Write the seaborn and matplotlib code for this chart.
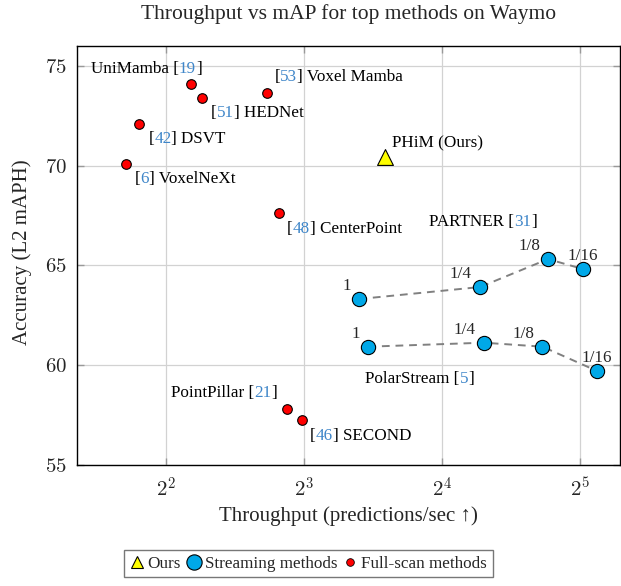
import numpy as np
import pandas as pd
import matplotlib
matplotlib.use("Agg")
import matplotlib.pyplot as plt
import seaborn as sns
from matplotlib.lines import Line2D
from matplotlib.font_manager import FontProperties
from matplotlib.ticker import FixedLocator, FuncFormatter, NullLocator

# full-scan detectors
full_names = ["UniMamba", "Voxel Mamba", "HEDNet", "DSVT", "VoxelNeXt",
              "CenterPoint", "PointPillar", "SECOND"]
full_refs = ["19", "53", "51", "42", "6", "48", "21", "46"]
full_fps = [4.53, 6.63, 4.79, 3.50, 3.28, 7.06, 7.33, 7.93]
full_map = [74.12, 73.62, 73.40, 72.08, 70.10, 67.64, 57.83, 57.25]

# ours
ours_fps = [12.0]
ours_map = [70.43]

# streaming methods (fraction of the scan)
ratios = ["1", "1/4", "1/8", "1/16"]
partner_fps = [10.56, 19.37, 27.25, 32.5]
partner_map = [63.32, 63.92, 65.32, 64.82]
polar_fps = [11.05, 19.73, 26.5, 34.8]
polar_map = [60.93, 61.13, 60.93, 59.72]

x_ticks = [4, 8, 16, 32]
y_ticks = [55, 60, 65, 70, 75]

RED = "#ff0000"
CYAN = "#00a8e8"
YELLOW = "#ffff00"
CITE = "#3f86c9"
LBL = 12.3

sns.set_style("whitegrid")
plt.rcParams["font.family"] = ["Liberation Serif", "DejaVu Serif"]
plt.rcParams["mathtext.fontset"] = "cm"

fig = plt.figure(figsize=(6.21, 5.86), dpi=100)
ax = fig.add_axes([77 / 621, 121 / 586, 543 / 621, 419 / 586])

sns.lineplot(x=partner_fps, y=partner_map, sort=False, ax=ax, color="#808080",
             lw=1.4, linestyle=(0, (4, 3)), zorder=2)
sns.lineplot(x=polar_fps, y=polar_map, sort=False, ax=ax, color="#808080",
             lw=1.4, linestyle=(0, (4, 3)), zorder=2)

sns.scatterplot(x=full_fps, y=full_map, ax=ax, color=RED, s=48,
                edgecolor="black", linewidth=0.8, zorder=3)
sns.scatterplot(x=partner_fps + polar_fps, y=partner_map + polar_map, ax=ax,
                color=CYAN, s=105, edgecolor="black", linewidth=0.8, zorder=3)
sns.scatterplot(x=ours_fps, y=ours_map, ax=ax, color=YELLOW, marker="^", s=130,
                edgecolor="black", linewidth=0.8, zorder=3)

ax.set_xscale("log", base=2)
ax.set_xlim(2 ** 1.355, 2 ** 5.29)
ax.set_ylim(55, 76)
ax.xaxis.set_major_locator(FixedLocator(x_ticks))
ax.xaxis.set_minor_locator(NullLocator())
ax.xaxis.set_major_formatter(FuncFormatter(lambda v, p: r"$2^{%d}$" % round(np.log2(v))))
ax.set_yticks(y_ticks)
ax.yaxis.set_major_formatter(FuncFormatter(lambda v, p: r"$%d$" % v))
ax.tick_params(axis="both", direction="in", length=5, width=1, color="#999999",
               labelsize=15, top=True, right=True, bottom=True, left=True)
ax.tick_params(axis="x", pad=9)
ax.tick_params(axis="y", pad=7)
ax.grid(True, color="#d2d2d2", lw=0.9)
for sp in ax.spines.values():
    sp.set_color("black")
    sp.set_linewidth(1.0)

renderer = fig.canvas.get_renderer()
prop = FontProperties(family=plt.rcParams["font.family"], size=LBL)


def tw(s):
    return renderer.get_text_width_height_descent(s, prop, ismath=False)


def rich_label(x, y, parts, dx, dy, ha="left"):
    # one label, pieces in different colours, placed from measured string widths
    full = "".join(t for t, c in parts)
    W, H, D = tw(full)
    _, h_lp, d_lp = tw("lp")
    H, D = max(H, h_lp), max(D, d_lp)
    left = dx if ha == "left" else dx - W
    base = dy + D - H / 2
    prefix = ""
    for txt, col in parts:
        prefix += txt
        off = tw(prefix)[0] - tw(txt.lstrip())[0]
        ax.annotate(txt.lstrip(), (x, y), xytext=(left + off, base),
                    textcoords="offset pixels", ha="left", va="baseline",
                    color=col, fontsize=LBL, zorder=4)


# (side, dx, dy) in pixels for each full-scan label
full_lbl = [("right", 11, 15), ("left", 8, 16), ("left", 9, -15), ("left", 9, -15),
            ("left", 8, -15), ("left", 8, -16), ("right", -9, 16), ("left", 8, -16)]
for name, ref, fx, fy, (side, dx, dy) in zip(full_names, full_refs, full_fps, full_map, full_lbl):
    if side == "right":
        parts = [(name + " [", "black"), (ref, CITE), ("]", "black")]
    else:
        parts = [("[", "black"), (ref, CITE), ("] " + name, "black")]
    rich_label(fx, fy, parts, dx, dy, ha=side)

rich_label(ours_fps[0], ours_map[0], [("PHiM (Ours)", "black")], 7, 14)

rich_label(partner_fps[1], partner_map[1],
           [("PARTNER [", "black"), ("31", CITE), ("]", "black")], -51, 65)
rich_label(polar_fps[0], polar_map[0],
           [("PolarStream [", "black"), ("5", CITE), ("]", "black")], -3, -32)

ratio_off = [("right", -8, 13), ("right", -8, 13), ("right", -8, 13), ("center", 0, 13)]
for fx_list, fy_list in [(partner_fps, partner_map), (polar_fps, polar_map)]:
    for r, fx, fy, (side, dx, dy) in zip(ratios, fx_list, fy_list, ratio_off):
        ax.annotate(r, (fx, fy), xytext=(dx, dy), textcoords="offset pixels",
                    ha=side, va="center", fontsize=LBL, zorder=4)

fig.text(348.5 / 621, 1 - 14 / 586, "Throughput vs mAP for top methods on Waymo",
         ha="center", va="center", fontsize=15.5)
fig.text(348.5 / 621, 1 - 516 / 586, "Throughput (predictions/sec \u2191)",
         ha="center", va="center", fontsize=15)
fig.text(22 / 621, 1 - 252 / 586, "Accuracy (L2 mAPH)", rotation=90,
         ha="center", va="center", fontsize=15)

handles = [
    Line2D([], [], ls="none", marker="^", ms=9, mfc=YELLOW, mec="black", mew=0.8),
    Line2D([], [], ls="none", marker="o", ms=11, mfc=CYAN, mec="black", mew=0.8),
    Line2D([], [], ls="none", marker="o", ms=5.5, mfc=RED, mec="black", mew=0.6),
]
leg = fig.legend(handles, ["Ours", "Streaming methods", "Full-scan methods"],
                 loc="center", bbox_to_anchor=(308.5 / 621, 22.5 / 586), ncol=3,
                 fontsize=12.3, frameon=True, fancybox=False, edgecolor="#555555",
                 handlelength=0.8, handletextpad=0.25, columnspacing=0.35,
                 borderpad=0.35, borderaxespad=0)
leg.get_frame().set_linewidth(1.0)

fig.savefig("out.png", dpi=100)
